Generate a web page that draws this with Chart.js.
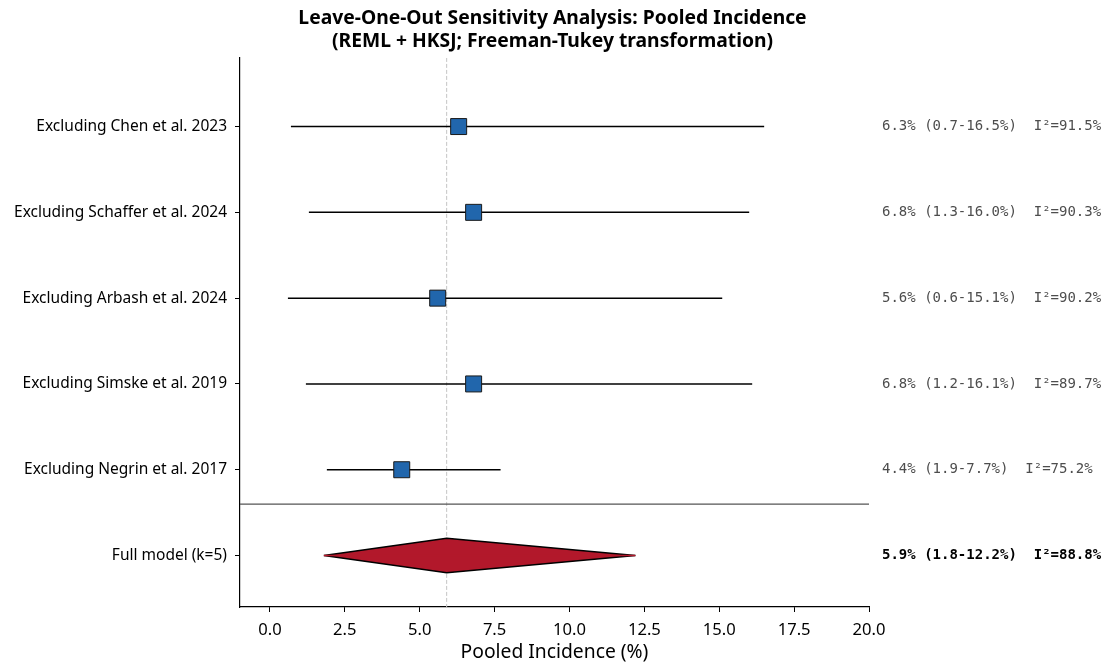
<!DOCTYPE html>
<html>
<head>
<meta charset="utf-8">
<script src="https://cdn.jsdelivr.net/npm/chart.js@4/dist/chart.umd.min.js"></script>
<style>
html,body{margin:0;padding:0;background:#fff;}
#wrap{width:1105px;height:664px;}
</style>
</head>
<body>
<div id="wrap"><canvas id="c" width="1105" height="664"></canvas></div>
<script>
// ---- data ----
const rowLabels = [
  'Excluding Chen et al. 2023',
  'Excluding Schaffer et al. 2024',
  'Excluding Arbash et al. 2024',
  'Excluding Simske et al. 2019',
  'Excluding Negrin et al. 2017',
  'Full model (k=5)'
];
const estimates = [6.3, 6.8, 5.6, 6.8, 4.4, 5.9];
const lowerCI   = [0.7, 1.3, 0.6, 1.2, 1.9, 1.8];
const upperCI   = [16.5, 16.0, 15.1, 16.1, 7.7, 12.2];
const i2Values  = [91.5, 90.3, 90.2, 89.7, 75.2, 88.8];
const xTicks = [0, 2.5, 5, 7.5, 10, 12.5, 15, 17.5, 20];
const pooledIndex = 5;

// ---- build datasets ----
const nStudies = pooledIndex;
const datasets = [];
// squares
datasets.push({
  label: 'estimates',
  data: estimates.slice(0, nStudies).map((v, i) => ({x: v, y: i})),
  pointStyle: 'rect',
  pointRadius: 11.3,
  pointBackgroundColor: '#2166ac',
  pointBorderColor: '#1a1a1a',
  pointBorderWidth: 1,
  showLine: false,
  order: 0
});
// CI lines
for (let i = 0; i < nStudies; i++) {
  datasets.push({
    label: 'ci' + i,
    data: [{x: lowerCI[i], y: i}, {x: upperCI[i], y: i}],
    showLine: true,
    borderColor: '#000',
    borderWidth: 1.5,
    pointRadius: 0,
    order: 2
  });
}
// diamond
const dh = 0.2;
const pe = estimates[pooledIndex], pl = lowerCI[pooledIndex], pu = upperCI[pooledIndex];
datasets.push({
  label: 'pooled',
  data: [
    {x: pl, y: pooledIndex}, {x: pe, y: pooledIndex - dh},
    {x: pu, y: pooledIndex}, {x: pe, y: pooledIndex + dh},
    {x: pl, y: pooledIndex}
  ],
  showLine: true,
  fill: 'shape',
  backgroundColor: '#b2182b',
  borderColor: '#000',
  borderWidth: 1.5,
  pointRadius: 0,
  tension: 0,
  order: 1
});
// pooled CI line (red, visible at the diamond tips)
datasets.push({
  label: 'pooledCI',
  data: [{x: pl, y: pooledIndex}, {x: pu, y: pooledIndex}],
  showLine: true,
  borderColor: '#b2182b',
  borderWidth: 1.5,
  pointRadius: 0,
  order: 0.5
});
// separator
datasets.push({
  label: 'sep',
  data: [{x: -1, y: 4.4}, {x: 20, y: 4.4}],
  showLine: true,
  borderColor: '#555',
  borderWidth: 1.2,
  pointRadius: 0,
  order: 5
});
// reference dashed line
datasets.push({
  label: 'ref',
  data: [{x: pe, y: -0.8}, {x: pe, y: 5.6}],
  showLine: true,
  borderColor: '#c4c4c4',
  borderWidth: 1,
  borderDash: [4, 2],
  pointRadius: 0,
  order: 6
});

const textPlugin = {
  id: 'rightText',
  afterDraw(chart) {
    const ctx = chart.ctx;
    const ys = chart.scales.y;
    const x0 = chart.chartArea.right + 13;
    ctx.save();
    ctx.textBaseline = 'middle';
    ctx.textAlign = 'left';
    for (let i = 0; i < rowLabels.length; i++) {
      const s = estimates[i].toFixed(1) + '% (' + lowerCI[i].toFixed(1) + '-' + upperCI[i].toFixed(1) + '%)  I\u00b2=' + i2Values[i].toFixed(1) + '%';
      if (i === pooledIndex) {
        ctx.font = 'bold 14px "DejaVu Sans Mono"';
        ctx.fillStyle = '#000';
      } else {
        ctx.font = '14px "DejaVu Sans Mono"';
        ctx.fillStyle = '#4d4d4d';
      }
      ctx.fillText(s, x0, ys.getPixelForValue(i));
    }
    ctx.restore();
  }
};

new Chart(document.getElementById('c'), {
  type: 'scatter',
  data: {datasets},
  plugins: [textPlugin],
  options: {
    responsive: false,
    animation: false,
    layout: {padding: {left: 0, right: 0, top: 0, bottom: 0}},
    plugins: {
      legend: {display: false},
      tooltip: {enabled: false},
      title: {
        display: true,
        text: ['Leave-One-Out Sensitivity Analysis: Pooled Incidence', '(REML + HKSJ; Freeman-Tukey transformation)'],
        color: '#000',
        font: {family: '"Noto Sans"', size: 19.3, weight: 'bold', lineHeight: 1.2},
        padding: {top: 6.6, bottom: 5}
      }
    },
    scales: {
      x: {
        type: 'linear',
        min: -1, max: 20,
        afterBuildTicks(scale) { scale.ticks = xTicks.map(v => ({value: v})); },
        afterFit(scale) { scale.height = 57; },
        ticks: {
          callback: v => Number(v).toFixed(1),
          color: '#000',
          font: {family: '"Noto Sans"', size: 16.6},
          padding: 8,
          maxRotation: 0
        },
        grid: {drawOnChartArea: false, drawTicks: true, tickLength: 5, color: '#000', tickWidth: 1},
        border: {display: true, color: '#000', width: 1.2},
        title: {
          display: true,
          text: 'Pooled Incidence (%)',
          color: '#000',
          font: {family: '"Noto Sans"', size: 19.3},
          padding: {top: 0, bottom: 0}
        }
      },
      y: {
        type: 'linear',
        reverse: true,
        min: -0.8, max: 5.6,
        afterBuildTicks(scale) { scale.ticks = rowLabels.map((l, i) => ({value: i})); },
        afterFit(scale) { scale.width = 240; },
        ticks: {
          callback: v => rowLabels[v] !== undefined ? rowLabels[v] : '',
          color: '#000',
          font: {family: '"Noto Sans"', size: 15.5},
          padding: 8
        },
        grid: {drawOnChartArea: false, drawTicks: true, tickLength: 5, color: '#000', tickWidth: 1},
        border: {display: true, color: '#000', width: 1.2}
      },
      yText: {
        type: 'linear',
        position: 'right',
        display: true,
        min: 0, max: 1,
        afterFit(scale) { scale.width = 236; },
        ticks: {display: false},
        grid: {display: false},
        border: {display: false}
      }
    }
  }
});
</script>
</body>
</html>
